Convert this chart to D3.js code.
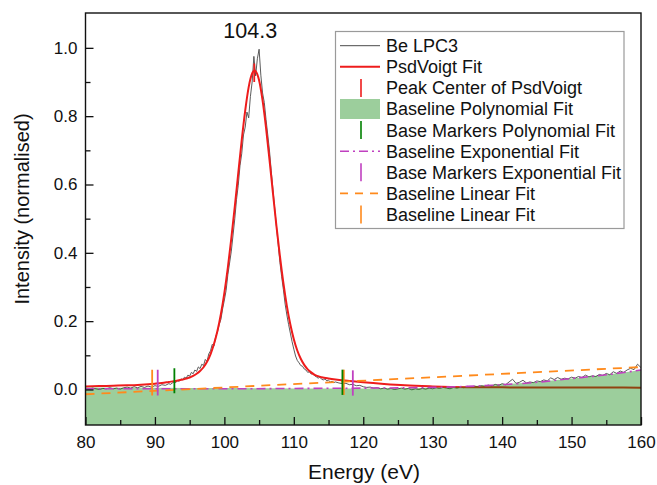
<!DOCTYPE html>
<html>
<head>
<meta charset="utf-8">
<script src="https://cdn.jsdelivr.net/npm/d3@7"></script>
<style>
  html, body { margin: 0; padding: 0; background: #fff; }
  svg { display: block; font-family: "Liberation Sans", Arial, sans-serif; }
</style>
</head>
<body>
<main></main>
<script>
// measured spectrum, [energy eV, intensity]
const spectrum = [
  [80.0,0.003],[80.5,0.001],[81.0,0.004],[81.5,0.002],[82.0,0.000],[82.5,0.003],[83.0,0.002],[83.5,0.005],
  [84.0,0.002],[84.5,0.004],[85.0,0.001],[85.5,0.005],[86.0,0.007],[86.5,0.004],[87.0,0.008],[87.5,0.005],
  [88.0,0.009],[88.5,0.006],[89.0,0.010],[89.5,0.007],[90.0,0.011],[90.5,0.009],[91.0,0.014],[91.5,0.012],
  [92.0,0.017],[92.25,0.015],[92.5,0.019],[92.75,0.022],[93.0,0.020],[93.25,0.026],[93.5,0.024],[93.75,0.031],
  [94.0,0.028],[94.25,0.036],[94.5,0.033],[94.75,0.042],[95.0,0.039],[95.25,0.050],[95.5,0.046],[95.75,0.057],
  [96.0,0.053],[96.25,0.066],[96.5,0.061],[96.75,0.074],[97.0,0.070],[97.25,0.088],[97.5,0.082],[97.75,0.104],
  [98.0,0.113],[98.25,0.132],[98.5,0.127],[98.75,0.155],[99.0,0.168],[99.25,0.190],[99.5,0.205],[99.75,0.236],
  [100.0,0.262],[100.25,0.290],[100.5,0.336],[100.75,0.370],[101.0,0.405],[101.25,0.452],[101.5,0.500],[101.75,0.556],
  [102.0,0.598],[102.25,0.655],[102.5,0.690],[102.75,0.745],[103.0,0.768],[103.25,0.812],[103.5,0.795],[103.75,0.858],
  [104.0,0.900],[104.25,0.975],[104.5,0.918],[104.75,0.968],[105.0,0.996],[105.25,0.920],[105.5,0.868],[105.75,0.840],
  [106.0,0.790],[106.25,0.745],[106.5,0.698],[106.75,0.640],[107.0,0.585],[107.25,0.530],[107.5,0.478],[107.75,0.425],
  [108.0,0.372],[108.25,0.330],[108.5,0.292],[108.75,0.250],[109.0,0.218],[109.25,0.190],[109.5,0.165],[109.75,0.140],
  [110.0,0.118],[110.25,0.098],[110.5,0.085],[110.75,0.078],[111.0,0.070],[111.25,0.068],[111.5,0.060],[111.75,0.057],
  [112.0,0.050],[112.25,0.052],[112.5,0.045],[112.75,0.047],[113.0,0.040],[113.25,0.037],[113.5,0.033],[113.75,0.036],
  [114.0,0.030],[114.25,0.028],[114.5,0.031],[114.75,0.025],[115.0,0.027],[115.25,0.022],[115.5,0.024],[115.75,0.020],
  [116.0,0.022],[116.5,0.019],[117.0,0.017],[117.5,0.018],[118.0,0.014],[118.5,0.015],[119.0,0.011],[119.5,0.012],
  [120.0,0.008],[120.5,0.006],[121.0,0.007],[121.5,0.004],[122.0,0.005],[122.5,0.002],[123.0,0.004],[123.5,0.001],
  [124.0,0.003],[124.5,0.000],[125.0,0.002],[125.5,0.004],[126.0,0.001],[126.5,0.003],[127.0,-0.001],[127.5,0.002],
  [128.0,0.000],[128.5,0.003],[129.0,0.001],[129.5,0.004],[130.0,0.002],[130.5,0.005],[131.0,0.003],[131.5,0.006],
  [132.0,0.004],[132.5,0.002],[133.0,0.006],[133.5,0.004],[134.0,0.007],[134.5,0.005],[135.0,0.009],[135.5,0.006],
  [136.0,0.010],[136.5,0.008],[137.0,0.011],[137.5,0.009],[138.0,0.013],[138.5,0.010],[139.0,0.015],[139.5,0.012],
  [140.0,0.017],[140.5,0.014],[141.0,0.022],[141.5,0.030],[142.0,0.018],[142.5,0.021],[143.0,0.027],[143.5,0.019],
  [144.0,0.022],[144.5,0.020],[145.0,0.025],[145.5,0.023],[146.0,0.028],[146.5,0.025],[147.0,0.034],[147.5,0.029],
  [148.0,0.035],[148.5,0.030],[149.0,0.033],[149.5,0.031],[150.0,0.036],[150.5,0.033],[151.0,0.038],[151.5,0.035],
  [152.0,0.042],[152.5,0.037],[153.0,0.040],[153.5,0.038],[154.0,0.044],[154.5,0.041],[155.0,0.047],[155.5,0.043],
  [156.0,0.052],[156.5,0.047],[157.0,0.054],[157.5,0.050],[158.0,0.057],[158.5,0.062],[159.0,0.058],[159.5,0.074],
  [160.0,0.064]
];

// PsdVoigt fit curve
const fitCurve = [
  [80,0.009],[82,0.010],[84,0.011],[86,0.012],[88,0.014],[90,0.017],[91,0.019],[92,0.022],[93,0.025],
  [94,0.029],[94.5,0.032],[95,0.035],[95.5,0.040],[96,0.046],[96.5,0.054],[97,0.065],[97.5,0.081],
  [98,0.103],[98.5,0.133],[99,0.171],[99.5,0.221],[100,0.283],[100.5,0.357],[101,0.442],[101.5,0.535],
  [102,0.633],[102.5,0.730],[103,0.816],[103.5,0.885],[104,0.925],[104.35,0.934],[104.5,0.932],[105,0.905],
  [105.5,0.846],[106,0.766],[106.5,0.672],[107,0.574],[107.5,0.478],[108,0.390],[108.5,0.311],[109,0.244],
  [109.5,0.190],[110,0.147],[110.5,0.114],[111,0.090],[111.5,0.072],[112,0.059],[112.5,0.050],[113,0.043],
  [114,0.036],[115,0.032],[116,0.029],[118,0.025],[120,0.021],[123,0.016],[126,0.012],[130,0.009],
  [135,0.0068],[140,0.0062],[145,0.0058],[150,0.0056],[155,0.0055],[160,0.0054]
];

// baselines
const polyBaseline = [[80,0.006],[90,0.005],[100,0.004],[110,0.003],[120,0.003],[130,0.005],[135,0.009],[140,0.015],[145,0.022],[150,0.032],[155,0.043],[160,0.057]];
const expBaseline = [[80,0.002],[90,0.002],[100,0.002],[110,0.003],[120,0.004],[130,0.006],[135,0.009],[140,0.014],[145,0.021],[150,0.032],[155,0.043],[160,0.057]];
const linBaseline = [[80,-0.014],[160,0.0655]];

// vertical markers: [energy, low, high]
const peakMarkers = [[104.3, 0.900, 0.954]];
const polyMarkers = [[92.8, -0.011, 0.062], [117.0, -0.016, 0.058]];
const expMarkers = [[90.4, -0.018, 0.058], [118.5, -0.018, 0.056]];
const linMarkers = [[89.6, -0.018, 0.058], [117.2, -0.016, 0.058]];

const peakLabel = "104.3";
const xTicks = [80, 90, 100, 110, 120, 130, 140, 150, 160];
const xMinor = [85, 95, 105, 115, 125, 135, 145, 155];
const yTicks = [0.0, 0.2, 0.4, 0.6, 0.8, 1.0];
const yMinor = [0.1, 0.3, 0.5, 0.7, 0.9];

const legendLabels = [
  "Be LPC3", "PsdVoigt Fit", "Peak Center of PsdVoigt", "Baseline Polynomial Fit",
  "Base Markers Polynomial Fit", "Baseline Exponential Fit", "Base Markers Exponential Fit",
  "Baseline Linear Fit", "Baseline Linear Fit"
];

const RED = "#ee1c1c", GREEN = "#008000", MAGENTA = "#c040c0", ORANGE = "#ff8a1c", GRAY = "#4a4a4a";

const svg = d3.select("main").append("svg").attr("width", 657).attr("height", 485);

const LEFT = 85.5, RIGHT = 641, TOP = 13, BOTTOM = 425;
const x = d3.scaleLinear().domain([80, 160]).range([LEFT, RIGHT]);
const y = d3.scaleLinear().domain([-0.104, 1.102]).range([BOTTOM, TOP]);

svg.append("clipPath").attr("id", "plot")
  .append("rect").attr("x", LEFT).attr("y", TOP).attr("width", RIGHT - LEFT).attr("height", BOTTOM - TOP);

const plot = svg.append("g").attr("clip-path", "url(#plot)");
const line = d3.line().x(d => x(d[0])).y(d => y(d[1]));
const smooth = d3.line().x(d => x(d[0])).y(d => y(d[1])).curve(d3.curveMonotoneX);

plot.append("path").datum(spectrum).attr("d", line)
  .attr("fill", "none").attr("stroke", GRAY).attr("stroke-width", 0.9);

plot.append("path").datum(fitCurve).attr("d", smooth)
  .attr("fill", "none").attr("stroke", RED).attr("stroke-width", 2);

// polynomial baseline drawn as a filled area on top
plot.append("path").datum(polyBaseline)
  .attr("d", d3.area().x(d => x(d[0])).y0(BOTTOM).y1(d => y(d[1])).curve(d3.curveMonotoneX))
  .attr("fill", GREEN).attr("fill-opacity", 0.39);

plot.append("path").datum(expBaseline).attr("d", smooth)
  .attr("fill", "none").attr("stroke", MAGENTA).attr("stroke-width", 1.6)
  .attr("stroke-dasharray", "9,4,2,4");

plot.append("path").datum(linBaseline).attr("d", line)
  .attr("fill", "none").attr("stroke", ORANGE).attr("stroke-width", 1.8)
  .attr("stroke-dasharray", "9,7");

const markers = [[linMarkers, ORANGE], [expMarkers, MAGENTA], [polyMarkers, GREEN], [peakMarkers, RED]];
markers.forEach(([data, color]) => {
  plot.selectAll(null).data(data).enter().append("line")
    .attr("x1", d => x(d[0])).attr("x2", d => x(d[0]))
    .attr("y1", d => y(d[1])).attr("y2", d => y(d[2]))
    .attr("stroke", color).attr("stroke-width", 1.8);
});

svg.append("text")
  .attr("x", x(104.3) - 4).attr("y", 38)
  .attr("text-anchor", "middle").attr("font-size", 21.5).attr("fill", "#111")
  .text(peakLabel);

// axes
svg.append("g").attr("transform", `translate(0,${BOTTOM})`)
  .call(d3.axisBottom(x).tickValues(xTicks).tickSize(-8).tickPadding(11).tickFormat(d3.format("d")));
svg.append("g").attr("transform", `translate(0,${BOTTOM})`)
  .call(d3.axisBottom(x).tickValues(xMinor).tickSize(-5).tickFormat(""));
svg.append("g").attr("transform", `translate(${LEFT},0)`)
  .call(d3.axisLeft(y).tickValues(yTicks).tickSize(-8).tickPadding(8).tickFormat(d3.format(".1f")));
svg.append("g").attr("transform", `translate(${LEFT},0)`)
  .call(d3.axisLeft(y).tickValues(yMinor).tickSize(-5).tickFormat(""));

svg.selectAll(".domain").remove();
svg.selectAll(".tick line").attr("stroke", "#111").attr("stroke-width", 1.3);
svg.selectAll(".tick text").attr("font-size", 17).attr("fill", "#111")
  .attr("font-family", "'Liberation Sans', Arial, sans-serif");

svg.append("rect")
  .attr("x", LEFT).attr("y", TOP).attr("width", RIGHT - LEFT).attr("height", BOTTOM - TOP)
  .attr("fill", "none").attr("stroke", "#111").attr("stroke-width", 1.4);

svg.append("text")
  .attr("x", 364).attr("y", 479)
  .attr("text-anchor", "middle").attr("font-size", 21).attr("fill", "#111")
  .text("Energy (eV)");

svg.append("text")
  .attr("transform", "translate(29,209) rotate(-90)")
  .attr("text-anchor", "middle").attr("font-size", 20).attr("fill", "#111")
  .text("Intensity (normalised)");

// legend
const legend = svg.append("g");
legend.append("rect")
  .attr("x", 335.5).attr("y", 31.5).attr("width", 288.5).attr("height", 197)
  .attr("fill", "#fff").attr("stroke", "#9a9a9a").attr("stroke-width", 1.2);

const rowY = i => 45.7 + i * 21.1;
const sx0 = 340, sx1 = 380, sxm = 361;

legend.append("line").attr("x1", sx0).attr("x2", sx1).attr("y1", rowY(0)).attr("y2", rowY(0))
  .attr("stroke", GRAY).attr("stroke-width", 1);
legend.append("line").attr("x1", sx0).attr("x2", sx1).attr("y1", rowY(1)).attr("y2", rowY(1))
  .attr("stroke", RED).attr("stroke-width", 2);
legend.append("line").attr("x1", sxm).attr("x2", sxm).attr("y1", rowY(2) - 9).attr("y2", rowY(2) + 9)
  .attr("stroke", RED).attr("stroke-width", 1.6);
legend.append("rect").attr("x", sx0).attr("y", rowY(3) - 10).attr("width", sx1 - sx0).attr("height", 20)
  .attr("fill", GREEN).attr("fill-opacity", 0.39);
legend.append("line").attr("x1", sxm).attr("x2", sxm).attr("y1", rowY(4) - 9).attr("y2", rowY(4) + 9)
  .attr("stroke", GREEN).attr("stroke-width", 1.6);
legend.append("line").attr("x1", sx0).attr("x2", sx1).attr("y1", rowY(5)).attr("y2", rowY(5))
  .attr("stroke", MAGENTA).attr("stroke-width", 1.6).attr("stroke-dasharray", "9,4,2,4");
legend.append("line").attr("x1", sxm).attr("x2", sxm).attr("y1", rowY(6) - 9).attr("y2", rowY(6) + 9)
  .attr("stroke", MAGENTA).attr("stroke-width", 1.6);
legend.append("line").attr("x1", sx0).attr("x2", sx1).attr("y1", rowY(7)).attr("y2", rowY(7))
  .attr("stroke", ORANGE).attr("stroke-width", 1.8).attr("stroke-dasharray", "8,7");
legend.append("line").attr("x1", sxm).attr("x2", sxm).attr("y1", rowY(8) - 9).attr("y2", rowY(8) + 9)
  .attr("stroke", ORANGE).attr("stroke-width", 1.6);

legend.selectAll("text.lab").data(legendLabels).enter().append("text")
  .attr("class", "lab")
  .attr("x", 386).attr("y", (d, i) => rowY(i))
  .attr("dy", "0.36em").attr("font-size", 18).attr("fill", "#111")
  .text(d => d);
</script>
</body>
</html>
